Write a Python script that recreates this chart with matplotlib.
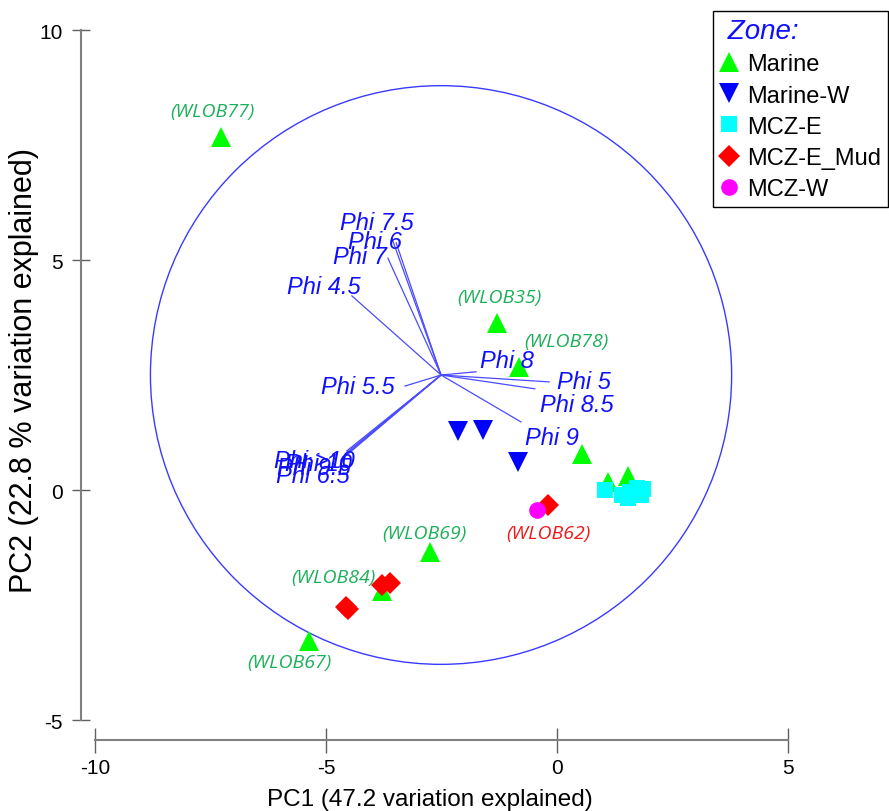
import matplotlib
matplotlib.use('Agg')
import matplotlib.pyplot as plt
from matplotlib.patches import Circle

plt.rcParams['font.family'] = ['Liberation Sans', 'DejaVu Sans']
plt.rcParams['axes.unicode_minus'] = False

# PCA sample scores per zone
zones = ['Marine', 'Marine-W', 'MCZ-E', 'MCZ-E_Mud', 'MCZ-W']

marine_x = [-7.27, -1.30, -0.82, 0.54, 1.54, 1.10, -2.75, -3.79, -5.37]
marine_y = [7.67, 3.63, 2.67, 0.78, 0.30, 0.17, -1.35, -2.20, -3.28]

marine_w_x = [-2.14, -1.60, -0.84]
marine_w_y = [1.28, 1.30, 0.61]

mcz_e_x = [1.04, 1.41, 1.58, 1.73, 1.86, 1.82, 1.54]
mcz_e_y = [0.00, -0.11, -0.04, 0.04, 0.02, -0.11, -0.17]

mcz_e_mud_x = [-0.19, -3.61, -3.79, -4.52, -4.56]
mcz_e_mud_y = [-0.33, -2.02, -2.07, -2.59, -2.54]

mcz_w_x = [-0.43]
mcz_w_y = [-0.43]

# labelled samples: (zone, index in that zone, name)
sample_labels = [
    ('Marine', 0, '(WLOB77)'),
    ('Marine', 1, '(WLOB35)'),
    ('Marine', 2, '(WLOB78)'),
    ('Marine', 6, '(WLOB69)'),
    ('Marine', 7, '(WLOB84)'),
    ('Marine', 8, '(WLOB67)'),
    ('MCZ-E_Mud', 0, '(WLOB62)'),
]

# variable vectors
vec_origin = (-2.51, 2.50)
vec_names = ['Phi 7.5', 'Phi 6', 'Phi 7', 'Phi 4.5', 'Phi 5.5', 'Phi 8',
             'Phi 5', 'Phi 8.5', 'Phi 9', 'Phi 6.5', 'Phi 9.5', 'Phi 10', 'Phi >10']
vec_x = [-3.57, -3.48, -3.66, -4.44, -3.29, -1.75, -0.17, -0.48, -0.78,
         -4.68, -4.63, -4.59, -4.55]
vec_y = [5.46, 5.37, 5.04, 4.22, 2.26, 2.57, 2.35, 2.20, 1.48,
         0.65, 0.72, 0.78, 0.85]
circle_radius = 6.29

# ---- styles / layout ----
zone_style = {
    'Marine': dict(marker='^', color='#00FF00', ms=14),
    'Marine-W': dict(marker='v', color='#0000FF', ms=14),
    'MCZ-E': dict(marker='s', color='#00FFFF', ms=12),
    'MCZ-E_Mud': dict(marker='D', color='#FF0000', ms=11),
    'MCZ-W': dict(marker='o', color='#FF00FF', ms=12),
}
zone_data = {
    'Marine': (marine_x, marine_y),
    'Marine-W': (marine_w_x, marine_w_y),
    'MCZ-E': (mcz_e_x, mcz_e_y),
    'MCZ-E_Mud': (mcz_e_mud_x, mcz_e_mud_y),
    'MCZ-W': (mcz_w_x, mcz_w_y),
}
sample_label_offsets = [(-6, 19), (2, 19), (34, 19), (-4, 14), (-35, 10), (-14, -15), (0, -20)]
sample_label_colors = ['#1DB05A'] * 6 + ['#F01818']
vec_label_offsets = [(-11, 12), (-15, 1), (-20, 1), (-20, 7), (-34, 0), (22, 8),
                     (25, 0), (30, -11), (22, -11), (-20, -11), (-21, -8), (-19, -7), (-23, -7)]

fig = plt.figure(figsize=(8.89, 8.12), dpi=100)
ax = fig.add_axes([0, 0, 1, 1])
ax.set_xlim(-12.056, 7.186)
ax.set_ylim(-6.978, 10.674)

# circle and vectors
ax.add_patch(Circle(vec_origin, circle_radius, fill=False, edgecolor='#3a3aff', lw=1.0))
for name, ex, ey, off in zip(vec_names, vec_x, vec_y, vec_label_offsets):
    ax.plot([vec_origin[0], ex], [vec_origin[1], ey], color='#4b4bff', lw=0.9)
    ax.annotate(name, xy=(ex, ey), xytext=off, textcoords='offset points',
                ha='center', va='center', fontsize=17, style='italic', color='#1010ff')

# samples
for z in zones:
    xs, ys = zone_data[z]
    st = zone_style[z]
    ax.plot(xs, ys, linestyle='none', marker=st['marker'], color=st['color'],
            markersize=st['ms'], markeredgewidth=0, label=z)

for (z, i, name), off, col in zip(sample_labels, sample_label_offsets, sample_label_colors):
    xs, ys = zone_data[z]
    ax.annotate(name, xy=(xs[i], ys[i]), xytext=off, textcoords='offset points',
                ha='center', va='center', fontsize=14, style='italic', color=col,
                family=['Open Sans', 'DejaVu Sans'])

# axes styling (detached PRIMER-like axes)
for s in ['top', 'right']:
    ax.spines[s].set_visible(False)
ax.spines['left'].set_position(('data', -10.3))
ax.spines['left'].set_bounds(-5, 10)
ax.spines['bottom'].set_position(('data', -5.43))
ax.spines['bottom'].set_bounds(-10, 5)
for s in ['left', 'bottom']:
    ax.spines[s].set_color('#808080')
    ax.spines[s].set_linewidth(1.5)
ax.set_xticks([-10, -5, 0, 5])
ax.set_yticks([-5, 0, 5, 10])
ax.tick_params(axis='y', direction='inout', length=13, width=1, color='#606060',
               labelsize=15, pad=7)
ax.tick_params(axis='x', direction='inout', length=18, width=1, color='#606060',
               labelsize=15, pad=4)
ax.set_xlabel('PC1 (47.2 variation explained)', fontsize=17.5)
ax.set_ylabel('PC2 (22.8 % variation explained)', fontsize=22)
ax.xaxis.set_label_coords(0.484, 0.028)
ax.yaxis.set_label_coords(0.044, 0.544)

leg = ax.legend(loc='upper right', bbox_to_anchor=(0.999, 1 - 12 / 812), borderaxespad=0,
                fontsize=17, fancybox=False, edgecolor='black', framealpha=1,
                title=' Zone:', alignment='left', handlelength=0.8, handletextpad=0.35,
                labelspacing=0.39, borderpad=0.3, markerscale=1.0)
leg.get_frame().set_linewidth(1.0)
leg.get_title().set_fontsize(20)
leg.get_title().set_style('italic')
leg.get_title().set_color('#1010ff')

fig.savefig('out.png', dpi=100)
